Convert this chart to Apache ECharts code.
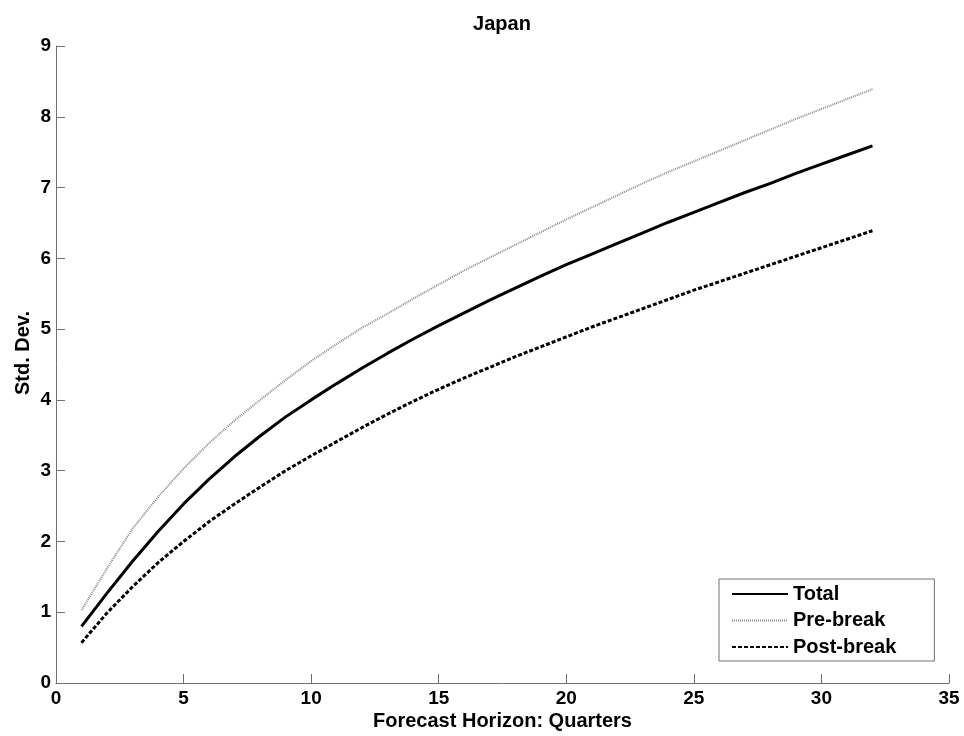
<!DOCTYPE html>
<html>
<head>
<meta charset="utf-8">
<title>Japan</title>
<script src="https://cdn.jsdelivr.net/npm/echarts@6/dist/echarts.min.js"></script>
<style>
  html, body { margin: 0; padding: 0; background: #ffffff; }
  #chart { width: 964px; height: 736px; }
</style>
</head>
<body>
<div id="chart"></div>
<script>
// Forecast horizon (quarters) and standard deviation of the forecast error
const horizon = [1, 2, 3, 4, 5, 6, 7, 8, 9, 10, 11, 12, 13, 14, 15, 16,
                 17, 18, 19, 20, 21, 22, 23, 24, 25, 26, 27, 28, 29, 30, 31, 32];

const total = [0.80, 1.27, 1.72, 2.14, 2.53, 2.88, 3.20, 3.49, 3.76, 4.00,
               4.23, 4.45, 4.66, 4.86, 5.05, 5.23, 5.41, 5.58, 5.75, 5.91,
               6.06, 6.21, 6.36, 6.51, 6.65, 6.79, 6.93, 7.06, 7.20, 7.33,
               7.46, 7.59];

const preBreak = [1.03, 1.62, 2.18, 2.63, 3.03, 3.39, 3.71, 4.00, 4.28, 4.55,
                  4.79, 5.02, 5.22, 5.43, 5.63, 5.83, 6.01, 6.19, 6.37, 6.55,
                  6.72, 6.89, 7.06, 7.22, 7.37, 7.52, 7.67, 7.82, 7.97, 8.11,
                  8.25, 8.39];

const postBreak = [0.57, 0.99, 1.36, 1.70, 2.00, 2.28, 2.53, 2.77, 3.00, 3.21,
                   3.41, 3.61, 3.80, 3.98, 4.15, 4.31, 4.46, 4.61, 4.75, 4.89,
                   5.03, 5.16, 5.29, 5.42, 5.55, 5.67, 5.79, 5.91, 6.03, 6.15,
                   6.27, 6.39];

const seriesNames = ['Total', 'Pre-break', 'Post-break'];

const FONT = 'Liberation Sans, Arial, Helvetica, sans-serif';
const AXIS_GRAY = '#707070';

function pairs(values) {
  return horizon.map((h, i) => [h, values[i]]);
}

const chart = echarts.init(document.getElementById('chart'), null, { renderer: 'canvas' });

chart.setOption({
  animation: false,
  backgroundColor: '#ffffff',
  title: {
    text: 'Japan',
    left: 497,
    textAlign: 'center',
    top: 9,
    textStyle: { fontFamily: FONT, fontSize: 20, fontWeight: 'bold', color: '#000' }
  },
  grid: { left: 56, right: 15, top: 46, bottom: 53, containLabel: false },
  legend: {
    data: seriesNames,
    orient: 'vertical',
    left: 719,
    top: 579,
    itemWidth: 56,
    itemHeight: 14,
    itemGap: 6.5,
    padding: [5, 38, 4, 12],
    backgroundColor: '#ffffff',
    borderColor: AXIS_GRAY,
    borderWidth: 1,
    borderRadius: 0,
    selectedMode: false,
    itemStyle: { opacity: 0 },
    textStyle: { fontFamily: FONT, fontSize: 20, fontWeight: 'bold', color: '#000' }
  },
  xAxis: {
    type: 'value',
    min: 0,
    max: 35,
    interval: 5,
    name: 'Forecast Horizon: Quarters',
    nameLocation: 'middle',
    nameGap: 28,
    nameMoveOverlap: false,
    nameTextStyle: { fontFamily: FONT, fontSize: 20, fontWeight: 'bold', color: '#000' },
    axisLine: { show: true, onZero: false, lineStyle: { color: AXIS_GRAY, width: 1 } },
    axisTick: { show: true, inside: true, length: 9, lineStyle: { color: AXIS_GRAY } },
    axisLabel: { margin: 6, fontFamily: FONT, fontSize: 19, fontWeight: 'bold', color: '#000' },
    splitLine: { show: false }
  },
  yAxis: {
    type: 'value',
    min: 0,
    max: 9,
    interval: 1,
    name: 'Std. Dev.',
    nameLocation: 'middle',
    nameGap: 23,
    nameMoveOverlap: false,
    nameTextStyle: { fontFamily: FONT, fontSize: 20, fontWeight: 'bold', color: '#000', padding: [0, 0, 0, 23] },
    axisLine: { show: true, onZero: false, lineStyle: { color: AXIS_GRAY, width: 1 } },
    axisTick: { show: true, inside: true, length: 9, lineStyle: { color: AXIS_GRAY } },
    axisLabel: { margin: 5, fontFamily: FONT, fontSize: 19, fontWeight: 'bold', color: '#000' },
    splitLine: { show: false }
  },
  series: [
    {
      name: seriesNames[0],
      type: 'line',
      data: pairs(total),
      showSymbol: false,
      symbol: 'none',
      itemStyle: { color: '#000000' },
      lineStyle: { color: '#000000', width: 3, type: 'solid' }
    },
    {
      name: seriesNames[1],
      type: 'line',
      data: pairs(preBreak),
      showSymbol: false,
      symbol: 'none',
      itemStyle: { color: '#8a8a8a' },
      lineStyle: { color: '#8a8a8a', width: 2, type: [1, 1] }
    },
    {
      name: seriesNames[2],
      type: 'line',
      data: pairs(postBreak),
      showSymbol: false,
      symbol: 'none',
      itemStyle: { color: '#000000' },
      lineStyle: { color: '#000000', width: 3, type: [4, 2] }
    }
  ]
});
</script>
</body>
</html>
